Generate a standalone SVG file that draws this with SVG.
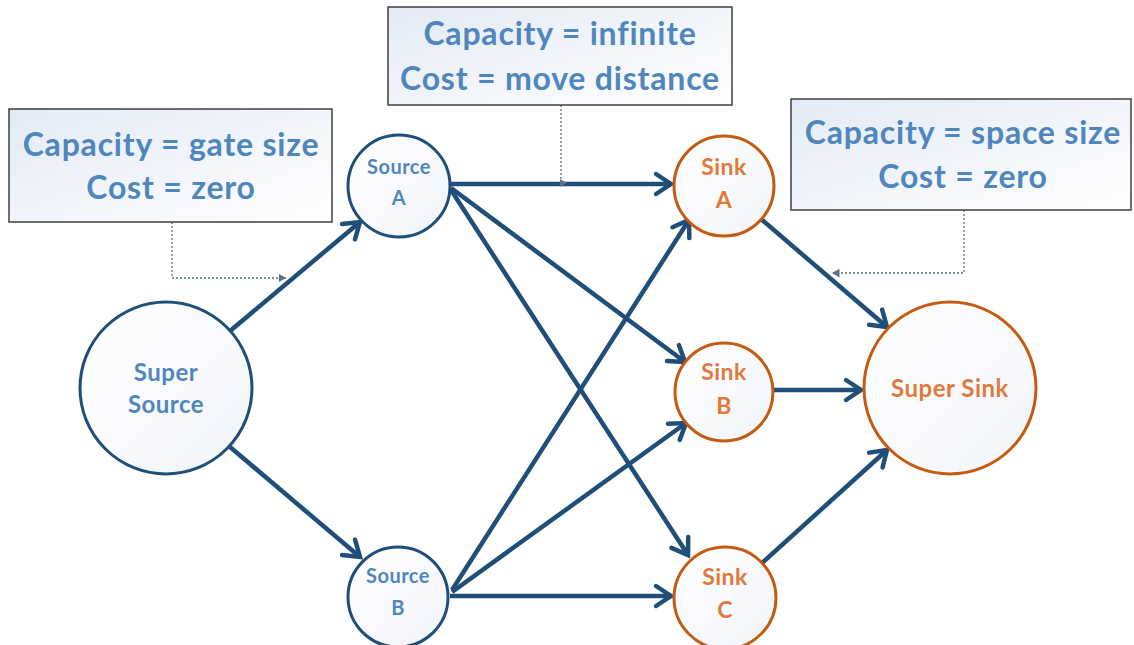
<svg xmlns="http://www.w3.org/2000/svg" width="1134" height="645" viewBox="0 0 1134 645">
  <defs>
    <linearGradient id="boxFill" x1="0" y1="0" x2="1" y2="1">
      <stop offset="0" stop-color="#e3eaf5"/>
      <stop offset="1" stop-color="#ffffff"/>
    </linearGradient>
    <linearGradient id="nodeFill" x1="0" y1="0" x2="1" y2="1">
      <stop offset="0" stop-color="#ffffff"/>
      <stop offset="1" stop-color="#f1f4fa"/>
    </linearGradient>
    <marker id="open" markerUnits="userSpaceOnUse" markerWidth="30" markerHeight="30" viewBox="-20 -15 30 30" refX="0" refY="0" orient="auto">
      <path d="M-15,-10 L0,0 L-15,10" fill="none" stroke="#1f4e79" stroke-width="4.5" stroke-linejoin="miter" stroke-linecap="round"/>
    </marker>
    <marker id="tiny" markerUnits="userSpaceOnUse" markerWidth="10" markerHeight="10" viewBox="-6 -4 8 8" refX="0" refY="0" orient="auto">
      <path d="M-6,-3.5 L0,0 L-6,3.5 Z" fill="#5a6f8a"/>
    </marker>
  </defs>
  <style>
    .edge { stroke: #1f4e79; stroke-width: 4.5; fill: none; marker-end: url(#open); }
    .lead { stroke: #5a6f8a; stroke-width: 1.3; stroke-dasharray: 2 2; fill: none; marker-end: url(#tiny); }
    .box { fill: url(#boxFill); stroke: #3f3f3f; stroke-width: 1.5; }
    .note { font-family: Lato, "Open Sans", sans-serif; font-weight: bold; font-size: 32px; letter-spacing: 0.8px; fill: #4f86bd; text-anchor: middle; }
    .src { fill: url(#nodeFill); stroke: #1f4e79; stroke-width: 3; }
    .snk { fill: url(#nodeFill); stroke: #c55a11; stroke-width: 3; }
    .srcText { font-family: Lato, "Open Sans", sans-serif; font-weight: bold; fill: #4f86bd; text-anchor: middle; letter-spacing: 0.5px; }
    .snkText { font-family: Lato, "Open Sans", sans-serif; font-weight: bold; fill: #e0793a; text-anchor: middle; letter-spacing: 0.5px; }
  </style>
  <rect width="1134" height="645" fill="#ffffff"/>

  <!-- flow edges -->
  <g id="connectors">
    <line class="edge" x1="230" y1="331" x2="360" y2="222"/>
    <line class="edge" x1="230" y1="447" x2="360" y2="557"/>
    <line class="edge" x1="450" y1="184" x2="671" y2="184"/>
    <line class="edge" x1="451" y1="188" x2="685" y2="362"/>
    <line class="edge" x1="451" y1="190" x2="688" y2="555"/>
    <line class="edge" x1="452" y1="590" x2="689" y2="220"/>
    <line class="edge" x1="452" y1="592" x2="686" y2="423"/>
    <line class="edge" x1="450" y1="596" x2="671" y2="596"/>
    <line class="edge" x1="761" y1="219" x2="887" y2="327"/>
    <line class="edge" x1="774" y1="390" x2="861" y2="390"/>
    <line class="edge" x1="762" y1="563" x2="887" y2="450"/>
    <!-- dotted leaders from the annotation boxes -->
    <polyline class="lead" points="172,222 172,278 286,278"/>
    <polyline class="lead" points="561,105 561,183 567,183"/>
    <polyline class="lead" points="964,210 964,273 832,273"/>
  </g>

  <!-- annotation boxes -->
  <g id="note-gate">
    <rect class="box" x="9" y="109" width="323" height="113"/>
    <text class="note" x="171" y="156">Capacity = gate size</text>
    <text class="note" x="171" y="199">Cost = zero</text>
  </g>
  <g id="note-move">
    <rect class="box" x="388" y="7" width="344" height="98"/>
    <text class="note" x="560" y="45">Capacity = infinite</text>
    <text class="note" x="560" y="90">Cost = move distance</text>
  </g>
  <g id="note-space">
    <rect class="box" x="791" y="99" width="340" height="111"/>
    <text class="note" x="963" y="144">Capacity = space size</text>
    <text class="note" x="963" y="188">Cost = zero</text>
  </g>

  <!-- nodes -->
  <g id="super-source">
    <circle class="src" cx="166" cy="388" r="86"/>
    <text class="srcText" x="166" y="381" font-size="24">Super</text>
    <text class="srcText" x="166" y="413" font-size="24">Source</text>
  </g>
  <g id="source-a">
    <circle class="src" cx="399" cy="186" r="51"/>
    <text class="srcText" x="399" y="174" font-size="20">Source</text>
    <text class="srcText" x="399" y="205" font-size="20">A</text>
  </g>
  <g id="source-b">
    <circle class="src" cx="398" cy="597" r="50"/>
    <text class="srcText" x="398" y="583" font-size="20">Source</text>
    <text class="srcText" x="398" y="615" font-size="20">B</text>
  </g>
  <g id="sink-a">
    <circle class="snk" cx="724" cy="186" r="50"/>
    <text class="snkText" x="724" y="175" font-size="23">Sink</text>
    <text class="snkText" x="724" y="208" font-size="23">A</text>
  </g>
  <g id="sink-b">
    <circle class="snk" cx="724" cy="392" r="49"/>
    <text class="snkText" x="724" y="380" font-size="23">Sink</text>
    <text class="snkText" x="724" y="414" font-size="23">B</text>
  </g>
  <g id="sink-c">
    <circle class="snk" cx="725" cy="598" r="51"/>
    <text class="snkText" x="725" y="585" font-size="23">Sink</text>
    <text class="snkText" x="725" y="618" font-size="23">C</text>
  </g>
  <g id="super-sink">
    <circle class="snk" cx="950" cy="388" r="86"/>
    <text class="snkText" x="950" y="397" font-size="24">Super Sink</text>
  </g>
</svg>
